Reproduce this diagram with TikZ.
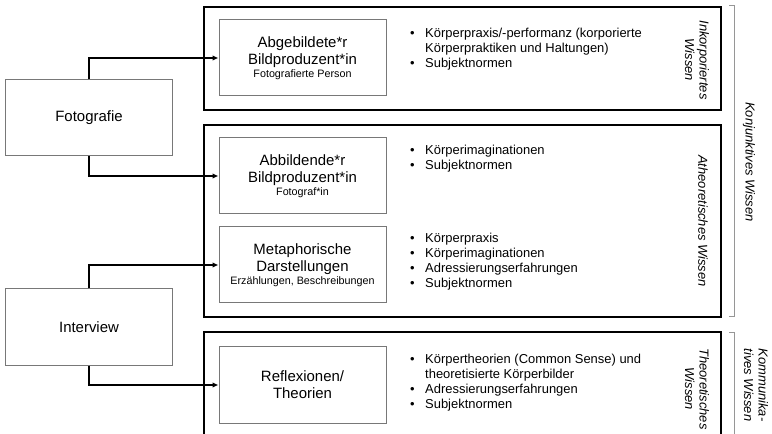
\documentclass[tikz,border=0pt]{standalone}
\usepackage{fontspec}
\setmainfont{Liberation Sans}
\usetikzlibrary{arrows.meta}
\definecolor{boxgray}{RGB}{120,120,120}
\definecolor{brgray}{RGB}{150,150,150}
\begin{document}
\begin{tikzpicture}[x=1bp,y=-1bp,
  outerbox/.style={draw=black,line width=1.8bp},
  innerbox/.style={draw=boxgray,line width=1bp,minimum width=167bp,minimum height=76bp,inner sep=0pt,align=center,font=\fontsize{15}{17}\selectfont},
  srcbox/.style={draw=boxgray,line width=1bp,minimum width=166bp,minimum height=76bp,inner sep=0pt,font=\fontsize{15}{17}\selectfont},
  arr/.style={-{Latex[length=6bp,width=5.5bp]},line width=1.4bp},
  listnode/.style={anchor=base west,inner sep=0pt,font=\fontsize{13}{14.8}\selectfont},
  sidelabel/.style={rotate=-90,align=center,inner sep=0pt,font=\fontsize{13}{14.5}\selectfont\itshape},
  bracket/.style={draw=brgray,line width=1bp}
]
\fill[white] (0,0) rectangle (772,434);
\useasboundingbox (0,0) rectangle (772,434);

% outer frames
\draw[outerbox] (204,7) rectangle (721,110);
\draw[outerbox] (204,125) rectangle (721,317);
\draw[outerbox] (204,445) -- (204,332) -- (721,332) -- (721,445);

% source boxes
\node[srcbox] (foto) at (89,118) {Fotografie};
\node[srcbox] (interview) at (89,327) {Interview};

% inner boxes
\node[innerbox] (abgeb) at (302.5,58) {Abgebildete*r\\Bildproduzent*in\\[-4bp]{\fontsize{10.8}{13}\selectfont Fotografierte Person}};
\node[innerbox] (abbild) at (302.5,176) {Abbildende*r\\Bildproduzent*in\\[-4bp]{\fontsize{10.8}{13}\selectfont Fotograf*in}};
\node[innerbox] (meta) at (302.5,265) {Metaphorische\\Darstellungen\\[-4bp]{\fontsize{10.8}{13}\selectfont Erzählungen, Beschreibungen}};
\node[innerbox] (refl) at (302.5,385) {Reflexionen/\\Theorien};

% connectors
\draw[arr] (foto.north) |- (abgeb.west);
\draw[arr] (foto.south) |- (abbild.west);
\draw[arr] (interview.north) |- (meta.west);
\draw[arr] (interview.south) |- (refl.west);

% bullet lists
\node[listnode] (l1) at (410,38) {\begin{tabular}[t]{@{}p{15bp}@{}l@{}}
•& Körperpraxis/-performanz (korporierte\\
 & Körperpraktiken und Haltungen)\\
•& Subjektnormen
\end{tabular}};
\node[listnode] (l2) at (410,154.5) {\begin{tabular}[t]{@{}p{15bp}@{}l@{}}
•& Körperimaginationen\\
•& Subjektnormen
\end{tabular}};
\node[listnode] (l3) at (410,243) {\begin{tabular}[t]{@{}p{15bp}@{}l@{}}
•& Körperpraxis\\
•& Körperimaginationen\\
•& Adressierungserfahrungen\\
•& Subjektnormen
\end{tabular}};
\node[listnode] (l4) at (410,364) {\begin{tabular}[t]{@{}p{15bp}@{}l@{}}
•& Körpertheorien (Common Sense) und\\
 & theoretisierte Körperbilder\\
•& Adressierungserfahrungen\\
•& Subjektnormen
\end{tabular}};

% side labels
\node[sidelabel] (s1) at (697,60) {Inkorporiertes\\Wissen};
\node[sidelabel] (s2) at (703,221) {Atheoretisches Wissen};
\node[sidelabel] (s3) at (697,389) {Theoretisches\\Wissen};

% brackets
\draw[bracket] (729,6) -- (734,6) -- (734,317) -- (729,317);
\draw[bracket] (729,333) -- (734,333) -- (734,445);
\node[sidelabel] (k1) at (749,162) {Konjunktives Wissen};
\node[sidelabel,align=left] (k2) at (756,385) {Kommunika-\\tives Wissen};
\end{tikzpicture}
\end{document}
